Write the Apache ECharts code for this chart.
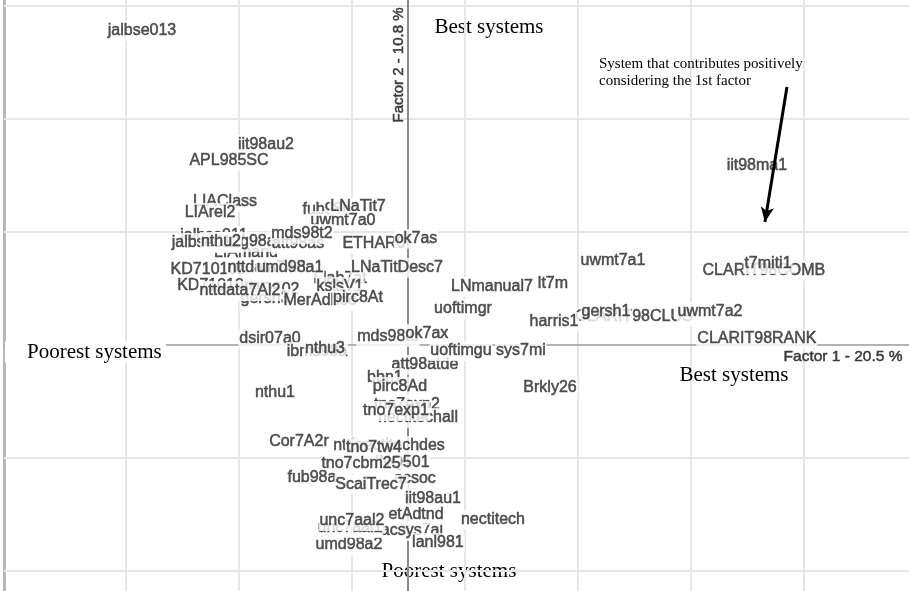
<!DOCTYPE html>
<html>
<head>
<meta charset="utf-8">
<script src="https://cdn.jsdelivr.net/npm/echarts@6/dist/echarts.min.js"></script>
<style>
  html, body { margin: 0; padding: 0; background: #fff; }
  #chart { width: 909px; height: 591px; }
</style>
</head>
<body>
<div id="chart"></div>
<script>
// System names, in drawing order (later labels sit on top of earlier ones)
const systems = [
  'jalbse013', 'iit98au2', 'APL985SC', 'LIAClass', 'LIArel2',
  'fub98b', 'LNaTit7', 'uwmt7a0', 'jalbse011', 'LIAmanu',
  'ibmg98a', 'att98as', 'jalbse012', 'nthu2', 'mds98t2',
  'ETHAR0', 'ok7as', 'KD71010s', 'nttdata7Al1', 'Flab7at',
  'umd98a1', 'LNaTitDesc7', 'KD71010q', 'INQ502', 'kslsV1',
  'gersh3', 'nttdata7Al2', 'MerAdhoc', 'pirc8At', 'LNmanual7',
  'lt7m', 'uwmt7a1', 'CLARIT98COMB', 't7miti1', 'iit98ma1',
  'uoftimgr', 'CLARIT98CLUS', 'gersh1', 'harris1', 'uwmt7a2',
  'CLARIT98RANK', 'dsir07a0', 'ibms98a', 'nthu3', 'mds98td',
  'ok7ax', 'att98atde', 'uoftimgu', 'sys7mi', 'bbn1',
  'tno7exp2', 'pirc8Ad', 'nthu1', 'Brkly26', 'nectitechall',
  'tno7exp1', 'Cor7A2r', 'ntt7a', 'nectitechdes', 'tno7tw4',
  'acsoc', 'INQ501', 'tno7cbm25', 'fub98a', 'ScaiTrec7',
  'iit98au1', 'acsys7al', 'etAdtnd', 'umd98a2', 'unc7aal1',
  'unc7aal2', 'lanl981', 'nectitech'
];

// Coordinates on the first factor (20.5 %)
const factor1 = [
  -2.354, -1.257, -1.584, -1.619, -1.752,
  -0.717, -0.442, -0.575, -1.717, -1.434,
  -1.443, -0.973, -1.788, -1.655, -0.938,
  -0.301, 0.071, -1.770, -1.239, -0.602,
  -1.044, -0.097, -1.708, -1.204, -0.602,
  -1.265, -1.487, -0.779, -0.442, 0.743,
  1.283, 1.814, 3.150, 3.186, 3.088,
  0.487, 2.000, 1.752, 1.292, 2.673,
  3.088, -1.221, -0.805, -0.735, -0.177,
  0.168, 0.150, 0.469, 1.000, -0.204,
  -0.009, -0.071, -1.177, 1.257, 0.088,
  -0.106, -0.965, -0.504, -0.071, -0.301,
  0.062, -0.053, -0.416, -0.850, -0.327,
  0.221, 0.035, 0.071, -0.522, -0.513,
  -0.496, 0.265, 0.752
];

// Coordinates on the second factor (10.8 %)
const factor2 = [
  2.779, 1.770, 1.628, 1.265, 1.168,
  1.195, 1.221, 1.097, 0.965, 0.814,
  0.912, 0.894, 0.903, 0.912, 0.982,
  0.894, 0.938, 0.664, 0.681, 0.584,
  0.681, 0.681, 0.522, 0.487, 0.513,
  0.407, 0.478, 0.389, 0.416, 0.513,
  0.540, 0.743, 0.655, 0.717, 1.584,
  0.319, 0.248, 0.292, 0.204, 0.292,
  0.053, 0.053, -0.062, -0.035, 0.071,
  0.097, -0.177, -0.053, -0.053, -0.292,
  -0.531, -0.372, -0.425, -0.381, -0.646,
  -0.584, -0.858, -0.894, -0.894, -0.912,
  -1.186, -1.044, -1.053, -1.177, -1.239,
  -1.363, -1.646, -1.504, -1.770, -1.619,
  -1.558, -1.752, -1.549
];

// Reference grid positions on each factor
const factor1Grid = [-2.5, -1.5, -0.5, 0.5, 1.5, 2.5, 3.5];
const factor2Grid = [-2, -1, 1, 2, 3];

// Arrow pointing at the system that contributes positively on factor 1
const arrowFrom = [3.354, 2.283];
const arrowTo = [3.159, 1.088];

const chart = echarts.init(document.getElementById('chart'), null, { renderer: 'canvas' });

const sans = '"Liberation Sans", Arial, Helvetica, sans-serif';
const serif = '"Liberation Serif", "Times New Roman", Times, serif';

const hiddenAxis = {
  axisLine: { show: false },
  axisTick: { show: false },
  axisLabel: { show: false },
  splitLine: { show: false }
};

const option = {
  backgroundColor: '#ffffff',
  animation: false,
  grid: { left: 4, right: 0, top: 0, bottom: 0 },
  xAxis: Object.assign({ type: 'value', min: -3.575, max: 4.434 }, hiddenAxis),
  yAxis: Object.assign({ type: 'value', min: -2.177, max: 3.053 }, hiddenAxis, {
    axisLine: { show: true, onZero: false, lineStyle: { color: '#b8b8b8', width: 3 } }
  }),
  series: [
    {
      // light reference grid
      type: 'scatter', data: [], z: 1, silent: true,
      markLine: {
        z: 1, silent: true, symbol: 'none', animation: false,
        label: { show: false },
        lineStyle: { color: '#e6e6e6', width: 2, type: 'solid' },
        data: factor1Grid.map(v => ({ xAxis: v }))
          .concat(factor2Grid.map(v => ({ yAxis: v })))
      }
    },
    {
      // factor axes through the origin
      type: 'scatter', data: [], z: 2, silent: true,
      markLine: {
        z: 2, silent: true, symbol: 'none', animation: false,
        label: { show: false },
        data: [
          { xAxis: 0, lineStyle: { color: '#8a8a8a', width: 2, type: 'solid' } },
          { yAxis: 0, lineStyle: { color: '#9a9a9a', width: 1.5, type: 'solid' } }
        ]
      }
    },
    {
      // systems, drawn as their names
      type: 'scatter', z: 3, silent: true,
      symbolSize: 1,
      itemStyle: { color: 'rgba(255,255,255,0)' },
      data: systems.map((name, i) => ({ name: name, value: [factor1[i], factor2[i]] })),
      label: {
        show: true,
        position: 'inside',
        formatter: '{b}',
        color: '#2b2b2b',
        textBorderColor: '#2b2b2b',
        textBorderWidth: 0.5,
        fontFamily: sans,
        fontSize: 16,
        backgroundColor: '#ffffff',
        padding: [2, 1]
      },
      emphasis: { disabled: true }
    },
    {
      // annotation arrow
      type: 'scatter', data: [], z: 10, silent: true,
      markLine: {
        z: 10, silent: true, animation: false,
        symbol: ['none', 'arrow'],
        symbolSize: [10, 15],
        label: { show: false },
        lineStyle: { color: '#000000', width: 3, type: 'solid' },
        data: [[{ coord: arrowFrom }, { coord: arrowTo }]]
      }
    }
  ],
  graphic: [
    {
      type: 'text', z: 0, x: 489, y: 27,
      style: { text: 'Best systems', font: '21px ' + serif, fill: '#000', align: 'center', verticalAlign: 'middle' }
    },
    {
      type: 'text', z: 0, x: 449, y: 571,
      style: { text: 'Poorest systems', font: '21px ' + serif, fill: '#000', align: 'center', verticalAlign: 'middle' }
    },
    {
      type: 'text', z: 10, x: 5, y: 352,
      style: {
        text: 'Poorest systems', font: '21px ' + serif, fill: '#000',
        align: 'left', verticalAlign: 'middle',
        backgroundColor: '#ffffff', padding: [0, 4, 0, 22]
      }
    },
    {
      type: 'text', z: 10, x: 734, y: 375,
      style: { text: 'Best systems', font: '21px ' + serif, fill: '#000', align: 'center', verticalAlign: 'middle' }
    },
    {
      type: 'text', z: 10, x: 599, y: 73,
      style: {
        text: 'System that contributes positively\nconsidering the 1st factor',
        font: '15px ' + serif, fill: '#000', align: 'left', verticalAlign: 'middle', lineHeight: 17
      }
    },
    {
      type: 'text', z: 10, x: 843, y: 357,
      style: { text: 'Factor 1 - 20.5 %', font: '15.5px ' + sans, fill: '#3a3a3a', stroke: '#3a3a3a', lineWidth: 0.5, align: 'center', verticalAlign: 'middle' }
    },
    {
      type: 'text', z: 10, x: 399, y: 65, rotation: Math.PI / 2,
      style: { text: 'Factor 2 - 10.8 %', font: '15px ' + sans, fill: '#3a3a3a', stroke: '#3a3a3a', lineWidth: 0.5, align: 'center', verticalAlign: 'middle' }
    }
  ]
};

chart.setOption(option);
</script>
</body>
</html>
